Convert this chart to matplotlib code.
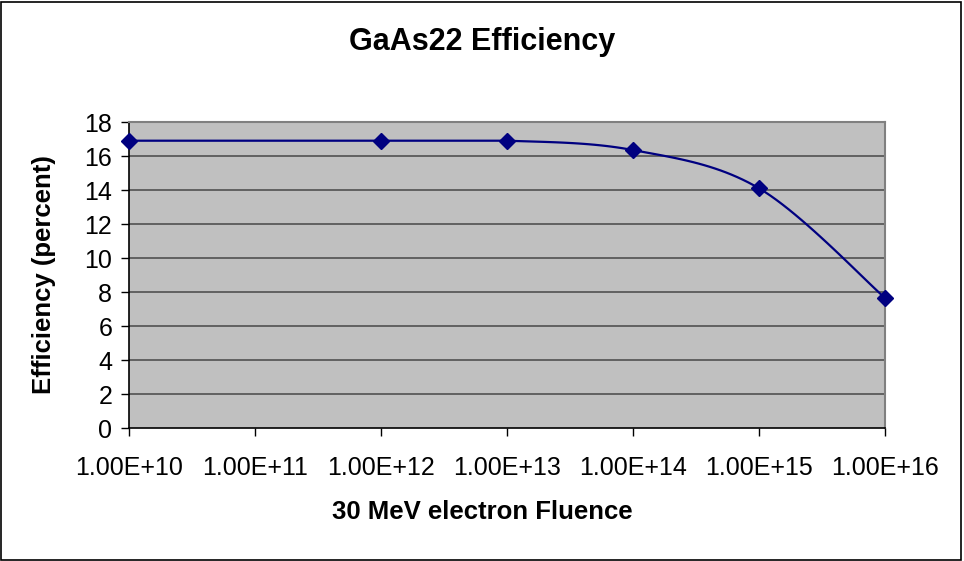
import numpy as np
import matplotlib
matplotlib.use("Agg")
import matplotlib.pyplot as plt
from matplotlib.patches import Rectangle
from matplotlib.ticker import FixedLocator, FuncFormatter

plt.rcParams['font.family'] = ['Liberation Sans', 'DejaVu Sans']

# 30 MeV electron fluence vs cell efficiency
fluence = [1e10, 1e12, 1e13, 1e14, 1e15, 1e16]
efficiency = [16.9, 16.9, 16.9, 16.35, 14.1, 7.65]
decades = [1e10, 1e11, 1e12, 1e13, 1e14, 1e15, 1e16]
yticks = list(range(0, 19, 2))

navy = '#000080'


def smooth_curve(xs, ys, n=24):
    # spreadsheet-style smoothed line: cubic bezier through points (log-x),
    # control points kept inside each segment's y range so flat runs stay flat
    px = np.log10(np.asarray(xs, dtype=float))
    py = np.asarray(ys, dtype=float)
    pts = np.column_stack([px, py])
    pad = np.vstack([pts[0], pts, pts[-1]])
    out = []
    for i in range(len(pts) - 1):
        p0, p1, p2, p3 = pad[i], pad[i + 1], pad[i + 2], pad[i + 3]
        c1 = p1 + (p2 - p0) / 6.0
        c2 = p2 - (p3 - p1) / 6.0
        lo, hi = min(p1[1], p2[1]), max(p1[1], p2[1])
        c1[1] = np.clip(c1[1], lo, hi)
        c2[1] = np.clip(c2[1], lo, hi)
        t = np.linspace(0, 1, n)[:, None]
        seg = ((1 - t) ** 3) * p1 + 3 * ((1 - t) ** 2) * t * c1 \
            + 3 * (1 - t) * t ** 2 * c2 + t ** 3 * p2
        out.append(seg if i == 0 else seg[1:])
    curve = np.vstack(out)
    return 10 ** curve[:, 0], curve[:, 1]


fig = plt.figure(figsize=(9.64, 5.61), dpi=100)
ax = fig.add_axes([129 / 964, 133 / 561, 756 / 964, 306 / 561])
ax.set_facecolor('#C0C0C0')

cx, cy = smooth_curve(fluence, efficiency)
ax.plot(cx, cy, color=navy, lw=1.6, zorder=3)
ax.plot(fluence, efficiency, ls='none', marker='D', ms=8.5, color=navy,
        zorder=4, clip_on=False)

ax.set_xscale('log')
ax.set_xlim(1e10, 1e16)
ax.set_ylim(0, 18)
ax.xaxis.set_major_locator(FixedLocator(decades))
ax.xaxis.set_minor_locator(FixedLocator([]))
ax.xaxis.set_major_formatter(FuncFormatter(lambda v, p: f"{v:.2E}"))
ax.set_yticks(yticks)

for y in yticks[1:]:
    ax.axhline(y, color='#5a5a5a', lw=1.3, zorder=1)

ax.tick_params(axis='both', direction='out', length=6, width=1, color='black',
               labelsize=18, pad=6)
ax.tick_params(axis='x', pad=14)

for side in ('top', 'right'):
    ax.spines[side].set_color('#808080')
    ax.spines[side].set_linewidth(1.5)
for side in ('left', 'bottom'):
    ax.spines[side].set_color('black')
    ax.spines[side].set_linewidth(1.2)

fig.text(0.5, 1 - 42 / 561, 'GaAs22 Efficiency', ha='center', va='center',
         fontsize=22, fontweight='bold')
fig.text(0.5, 1 - 512 / 561, '30 MeV electron Fluence', ha='center',
         va='center', fontsize=18.5, fontweight='bold')
fig.text(44 / 964, 1 - 275 / 561, 'Efficiency (percent)', ha='center',
         va='center', rotation=90, fontsize=18.5, fontweight='bold')

# outer chart border
fig.patches.append(Rectangle((1 / 964, 1 / 561), 960 / 964, 558 / 561,
                             transform=fig.transFigure, fill=False,
                             edgecolor='black', lw=1.2))

fig.savefig('out.png', dpi=100, facecolor='white')
